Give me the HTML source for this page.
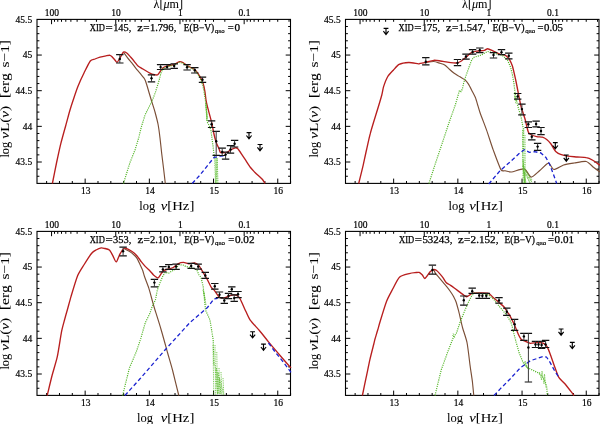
<!DOCTYPE html>
<html><head><meta charset="utf-8"><style>
html,body{margin:0;padding:0;background:#fff;width:600px;height:424px;overflow:hidden}
svg{display:block;will-change:transform}
.tk{font-family:"Liberation Serif",serif;font-size:9.5px;fill:#000;stroke:#000;stroke-width:0.2px}
.al{font-family:"Liberation Serif",serif;font-size:12.3px;fill:#000;stroke:#000;stroke-width:0.05px}
.tx{font-family:"Liberation Serif",serif;font-size:9.5px;fill:#000;stroke:#000;stroke-width:0.2px}
.an{font-family:"Liberation Serif",serif;font-size:9.6px;fill:#000;stroke:#000;stroke-width:0.25px}
.sb{font-family:"Liberation Sans",sans-serif;font-size:6.2px;fill:#000;stroke:#000;stroke-width:0.2px}
</style></head><body>
<svg width="600" height="424" viewBox="0 0 600 424">
<g transform="translate(37,19.4)">
<rect x="0" y="0" width="253.5" height="164.0" fill="none" stroke="#000" stroke-width="1.1"/>
<path d="M9.63 164.0v-2.4 M22.47 164.0v-2.4 M35.31 164.0v-2.4 M48.15 164.0v-4.8 M60.99 164.0v-2.4 M73.83 164.0v-2.4 M86.67 164.0v-2.4 M99.51 164.0v-2.4 M112.35 164.0v-4.8 M125.19 164.0v-2.4 M138.03 164.0v-2.4 M150.87 164.0v-2.4 M163.71 164.0v-2.4 M176.55 164.0v-4.8 M189.39 164.0v-2.4 M202.23 164.0v-2.4 M215.07 164.0v-2.4 M227.91 164.0v-2.4 M240.75 164.0v-4.8 M253.59 164.0v-2.4 M0 156.86h2.4 M253.5 156.86h-2.4 M0 149.73h2.4 M253.5 149.73h-2.4 M0 142.60h4.8 M253.5 142.60h-4.8 M0 135.47h2.4 M253.5 135.47h-2.4 M0 128.34h2.4 M253.5 128.34h-2.4 M0 121.21h2.4 M253.5 121.21h-2.4 M0 114.08h2.4 M253.5 114.08h-2.4 M0 106.95h4.8 M253.5 106.95h-4.8 M0 99.82h2.4 M253.5 99.82h-2.4 M0 92.69h2.4 M253.5 92.69h-2.4 M0 85.56h2.4 M253.5 85.56h-2.4 M0 78.43h2.4 M253.5 78.43h-2.4 M0 71.30h4.8 M253.5 71.30h-4.8 M0 64.17h2.4 M253.5 64.17h-2.4 M0 57.04h2.4 M253.5 57.04h-2.4 M0 49.91h2.4 M253.5 49.91h-2.4 M0 42.78h2.4 M253.5 42.78h-2.4 M0 35.65h4.8 M253.5 35.65h-4.8 M0 28.52h2.4 M253.5 28.52h-2.4 M0 21.39h2.4 M253.5 21.39h-2.4 M0 14.26h2.4 M253.5 14.26h-2.4 M0 7.13h2.4 M253.5 7.13h-2.4 M14.56 0v4.8 M78.76 0v4.8 M59.43 0v2.4 M48.13 0v2.4 M40.11 0v2.4 M33.89 0v2.4 M28.80 0v2.4 M24.51 0v2.4 M20.78 0v2.4 M17.50 0v2.4 M142.96 0v4.8 M123.63 0v2.4 M112.33 0v2.4 M104.31 0v2.4 M98.09 0v2.4 M93.00 0v2.4 M88.71 0v2.4 M84.98 0v2.4 M81.70 0v2.4 M207.16 0v4.8 M187.83 0v2.4 M176.53 0v2.4 M168.51 0v2.4 M162.29 0v2.4 M157.20 0v2.4 M152.91 0v2.4 M149.18 0v2.4 M145.90 0v2.4 M252.03 0v2.4 M240.73 0v2.4 M232.71 0v2.4 M226.49 0v2.4 M221.40 0v2.4 M217.11 0v2.4 M213.38 0v2.4 M210.10 0v2.4" stroke="#000" stroke-width="1" fill="none"/>
<text x="-4.8" y="3.30" text-anchor="end" class="tk">45.5</text>
<text x="-4.8" y="38.95" text-anchor="end" class="tk">45</text>
<text x="-4.8" y="74.60" text-anchor="end" class="tk">44.5</text>
<text x="-4.8" y="110.25" text-anchor="end" class="tk">44</text>
<text x="-4.8" y="145.90" text-anchor="end" class="tk">43.5</text>
<text x="48.75" y="174.90" text-anchor="middle" class="tx">13</text>
<text x="112.95" y="174.90" text-anchor="middle" class="tx">14</text>
<text x="177.15" y="174.90" text-anchor="middle" class="tx">15</text>
<text x="241.35" y="174.90" text-anchor="middle" class="tx">16</text>
<text x="14.86" y="-3.6" text-anchor="middle" class="tx">100</text>
<text x="79.06" y="-3.6" text-anchor="middle" class="tx">10</text>
<text x="143.26" y="-3.6" text-anchor="middle" class="tx">1</text>
<text x="207.46" y="-3.6" text-anchor="middle" class="tx">0.1</text>
</g>
<g transform="translate(345.5,19.4)">
<rect x="0" y="0" width="253.5" height="164.0" fill="none" stroke="#000" stroke-width="1.1"/>
<path d="M9.63 164.0v-2.4 M22.47 164.0v-2.4 M35.31 164.0v-2.4 M48.15 164.0v-4.8 M60.99 164.0v-2.4 M73.83 164.0v-2.4 M86.67 164.0v-2.4 M99.51 164.0v-2.4 M112.35 164.0v-4.8 M125.19 164.0v-2.4 M138.03 164.0v-2.4 M150.87 164.0v-2.4 M163.71 164.0v-2.4 M176.55 164.0v-4.8 M189.39 164.0v-2.4 M202.23 164.0v-2.4 M215.07 164.0v-2.4 M227.91 164.0v-2.4 M240.75 164.0v-4.8 M253.59 164.0v-2.4 M0 156.86h2.4 M253.5 156.86h-2.4 M0 149.73h2.4 M253.5 149.73h-2.4 M0 142.60h4.8 M253.5 142.60h-4.8 M0 135.47h2.4 M253.5 135.47h-2.4 M0 128.34h2.4 M253.5 128.34h-2.4 M0 121.21h2.4 M253.5 121.21h-2.4 M0 114.08h2.4 M253.5 114.08h-2.4 M0 106.95h4.8 M253.5 106.95h-4.8 M0 99.82h2.4 M253.5 99.82h-2.4 M0 92.69h2.4 M253.5 92.69h-2.4 M0 85.56h2.4 M253.5 85.56h-2.4 M0 78.43h2.4 M253.5 78.43h-2.4 M0 71.30h4.8 M253.5 71.30h-4.8 M0 64.17h2.4 M253.5 64.17h-2.4 M0 57.04h2.4 M253.5 57.04h-2.4 M0 49.91h2.4 M253.5 49.91h-2.4 M0 42.78h2.4 M253.5 42.78h-2.4 M0 35.65h4.8 M253.5 35.65h-4.8 M0 28.52h2.4 M253.5 28.52h-2.4 M0 21.39h2.4 M253.5 21.39h-2.4 M0 14.26h2.4 M253.5 14.26h-2.4 M0 7.13h2.4 M253.5 7.13h-2.4 M14.56 0v4.8 M78.76 0v4.8 M59.43 0v2.4 M48.13 0v2.4 M40.11 0v2.4 M33.89 0v2.4 M28.80 0v2.4 M24.51 0v2.4 M20.78 0v2.4 M17.50 0v2.4 M142.96 0v4.8 M123.63 0v2.4 M112.33 0v2.4 M104.31 0v2.4 M98.09 0v2.4 M93.00 0v2.4 M88.71 0v2.4 M84.98 0v2.4 M81.70 0v2.4 M207.16 0v4.8 M187.83 0v2.4 M176.53 0v2.4 M168.51 0v2.4 M162.29 0v2.4 M157.20 0v2.4 M152.91 0v2.4 M149.18 0v2.4 M145.90 0v2.4 M252.03 0v2.4 M240.73 0v2.4 M232.71 0v2.4 M226.49 0v2.4 M221.40 0v2.4 M217.11 0v2.4 M213.38 0v2.4 M210.10 0v2.4" stroke="#000" stroke-width="1" fill="none"/>
<text x="-4.8" y="3.30" text-anchor="end" class="tk">45.5</text>
<text x="-4.8" y="38.95" text-anchor="end" class="tk">45</text>
<text x="-4.8" y="74.60" text-anchor="end" class="tk">44.5</text>
<text x="-4.8" y="110.25" text-anchor="end" class="tk">44</text>
<text x="-4.8" y="145.90" text-anchor="end" class="tk">43.5</text>
<text x="48.75" y="174.90" text-anchor="middle" class="tx">13</text>
<text x="112.95" y="174.90" text-anchor="middle" class="tx">14</text>
<text x="177.15" y="174.90" text-anchor="middle" class="tx">15</text>
<text x="241.35" y="174.90" text-anchor="middle" class="tx">16</text>
<text x="14.86" y="-3.6" text-anchor="middle" class="tx">100</text>
<text x="79.06" y="-3.6" text-anchor="middle" class="tx">10</text>
<text x="143.26" y="-3.6" text-anchor="middle" class="tx">1</text>
<text x="207.46" y="-3.6" text-anchor="middle" class="tx">0.1</text>
</g>
<g transform="translate(37,231.4)">
<rect x="0" y="0" width="253.5" height="164.0" fill="none" stroke="#000" stroke-width="1.1"/>
<path d="M9.63 164.0v-2.4 M22.47 164.0v-2.4 M35.31 164.0v-2.4 M48.15 164.0v-4.8 M60.99 164.0v-2.4 M73.83 164.0v-2.4 M86.67 164.0v-2.4 M99.51 164.0v-2.4 M112.35 164.0v-4.8 M125.19 164.0v-2.4 M138.03 164.0v-2.4 M150.87 164.0v-2.4 M163.71 164.0v-2.4 M176.55 164.0v-4.8 M189.39 164.0v-2.4 M202.23 164.0v-2.4 M215.07 164.0v-2.4 M227.91 164.0v-2.4 M240.75 164.0v-4.8 M253.59 164.0v-2.4 M0 156.86h2.4 M253.5 156.86h-2.4 M0 149.73h2.4 M253.5 149.73h-2.4 M0 142.60h4.8 M253.5 142.60h-4.8 M0 135.47h2.4 M253.5 135.47h-2.4 M0 128.34h2.4 M253.5 128.34h-2.4 M0 121.21h2.4 M253.5 121.21h-2.4 M0 114.08h2.4 M253.5 114.08h-2.4 M0 106.95h4.8 M253.5 106.95h-4.8 M0 99.82h2.4 M253.5 99.82h-2.4 M0 92.69h2.4 M253.5 92.69h-2.4 M0 85.56h2.4 M253.5 85.56h-2.4 M0 78.43h2.4 M253.5 78.43h-2.4 M0 71.30h4.8 M253.5 71.30h-4.8 M0 64.17h2.4 M253.5 64.17h-2.4 M0 57.04h2.4 M253.5 57.04h-2.4 M0 49.91h2.4 M253.5 49.91h-2.4 M0 42.78h2.4 M253.5 42.78h-2.4 M0 35.65h4.8 M253.5 35.65h-4.8 M0 28.52h2.4 M253.5 28.52h-2.4 M0 21.39h2.4 M253.5 21.39h-2.4 M0 14.26h2.4 M253.5 14.26h-2.4 M0 7.13h2.4 M253.5 7.13h-2.4 M14.56 0v4.8 M78.76 0v4.8 M59.43 0v2.4 M48.13 0v2.4 M40.11 0v2.4 M33.89 0v2.4 M28.80 0v2.4 M24.51 0v2.4 M20.78 0v2.4 M17.50 0v2.4 M142.96 0v4.8 M123.63 0v2.4 M112.33 0v2.4 M104.31 0v2.4 M98.09 0v2.4 M93.00 0v2.4 M88.71 0v2.4 M84.98 0v2.4 M81.70 0v2.4 M207.16 0v4.8 M187.83 0v2.4 M176.53 0v2.4 M168.51 0v2.4 M162.29 0v2.4 M157.20 0v2.4 M152.91 0v2.4 M149.18 0v2.4 M145.90 0v2.4 M252.03 0v2.4 M240.73 0v2.4 M232.71 0v2.4 M226.49 0v2.4 M221.40 0v2.4 M217.11 0v2.4 M213.38 0v2.4 M210.10 0v2.4" stroke="#000" stroke-width="1" fill="none"/>
<text x="-4.8" y="3.30" text-anchor="end" class="tk">45.5</text>
<text x="-4.8" y="38.95" text-anchor="end" class="tk">45</text>
<text x="-4.8" y="74.60" text-anchor="end" class="tk">44.5</text>
<text x="-4.8" y="110.25" text-anchor="end" class="tk">44</text>
<text x="-4.8" y="145.90" text-anchor="end" class="tk">43.5</text>
<text x="48.75" y="174.90" text-anchor="middle" class="tx">13</text>
<text x="112.95" y="174.90" text-anchor="middle" class="tx">14</text>
<text x="177.15" y="174.90" text-anchor="middle" class="tx">15</text>
<text x="241.35" y="174.90" text-anchor="middle" class="tx">16</text>
<text x="14.86" y="-3.6" text-anchor="middle" class="tx">100</text>
<text x="79.06" y="-3.6" text-anchor="middle" class="tx">10</text>
<text x="143.26" y="-3.6" text-anchor="middle" class="tx">1</text>
<text x="207.46" y="-3.6" text-anchor="middle" class="tx">0.1</text>
</g>
<g transform="translate(345.5,231.4)">
<rect x="0" y="0" width="253.5" height="164.0" fill="none" stroke="#000" stroke-width="1.1"/>
<path d="M9.63 164.0v-2.4 M22.47 164.0v-2.4 M35.31 164.0v-2.4 M48.15 164.0v-4.8 M60.99 164.0v-2.4 M73.83 164.0v-2.4 M86.67 164.0v-2.4 M99.51 164.0v-2.4 M112.35 164.0v-4.8 M125.19 164.0v-2.4 M138.03 164.0v-2.4 M150.87 164.0v-2.4 M163.71 164.0v-2.4 M176.55 164.0v-4.8 M189.39 164.0v-2.4 M202.23 164.0v-2.4 M215.07 164.0v-2.4 M227.91 164.0v-2.4 M240.75 164.0v-4.8 M253.59 164.0v-2.4 M0 156.86h2.4 M253.5 156.86h-2.4 M0 149.73h2.4 M253.5 149.73h-2.4 M0 142.60h4.8 M253.5 142.60h-4.8 M0 135.47h2.4 M253.5 135.47h-2.4 M0 128.34h2.4 M253.5 128.34h-2.4 M0 121.21h2.4 M253.5 121.21h-2.4 M0 114.08h2.4 M253.5 114.08h-2.4 M0 106.95h4.8 M253.5 106.95h-4.8 M0 99.82h2.4 M253.5 99.82h-2.4 M0 92.69h2.4 M253.5 92.69h-2.4 M0 85.56h2.4 M253.5 85.56h-2.4 M0 78.43h2.4 M253.5 78.43h-2.4 M0 71.30h4.8 M253.5 71.30h-4.8 M0 64.17h2.4 M253.5 64.17h-2.4 M0 57.04h2.4 M253.5 57.04h-2.4 M0 49.91h2.4 M253.5 49.91h-2.4 M0 42.78h2.4 M253.5 42.78h-2.4 M0 35.65h4.8 M253.5 35.65h-4.8 M0 28.52h2.4 M253.5 28.52h-2.4 M0 21.39h2.4 M253.5 21.39h-2.4 M0 14.26h2.4 M253.5 14.26h-2.4 M0 7.13h2.4 M253.5 7.13h-2.4 M14.56 0v4.8 M78.76 0v4.8 M59.43 0v2.4 M48.13 0v2.4 M40.11 0v2.4 M33.89 0v2.4 M28.80 0v2.4 M24.51 0v2.4 M20.78 0v2.4 M17.50 0v2.4 M142.96 0v4.8 M123.63 0v2.4 M112.33 0v2.4 M104.31 0v2.4 M98.09 0v2.4 M93.00 0v2.4 M88.71 0v2.4 M84.98 0v2.4 M81.70 0v2.4 M207.16 0v4.8 M187.83 0v2.4 M176.53 0v2.4 M168.51 0v2.4 M162.29 0v2.4 M157.20 0v2.4 M152.91 0v2.4 M149.18 0v2.4 M145.90 0v2.4 M252.03 0v2.4 M240.73 0v2.4 M232.71 0v2.4 M226.49 0v2.4 M221.40 0v2.4 M217.11 0v2.4 M213.38 0v2.4 M210.10 0v2.4" stroke="#000" stroke-width="1" fill="none"/>
<text x="-4.8" y="3.30" text-anchor="end" class="tk">45.5</text>
<text x="-4.8" y="38.95" text-anchor="end" class="tk">45</text>
<text x="-4.8" y="74.60" text-anchor="end" class="tk">44.5</text>
<text x="-4.8" y="110.25" text-anchor="end" class="tk">44</text>
<text x="-4.8" y="145.90" text-anchor="end" class="tk">43.5</text>
<text x="48.75" y="174.90" text-anchor="middle" class="tx">13</text>
<text x="112.95" y="174.90" text-anchor="middle" class="tx">14</text>
<text x="177.15" y="174.90" text-anchor="middle" class="tx">15</text>
<text x="241.35" y="174.90" text-anchor="middle" class="tx">16</text>
<text x="14.86" y="-3.6" text-anchor="middle" class="tx">100</text>
<text x="79.06" y="-3.6" text-anchor="middle" class="tx">10</text>
<text x="143.26" y="-3.6" text-anchor="middle" class="tx">1</text>
<text x="207.46" y="-3.6" text-anchor="middle" class="tx">0.1</text>
</g>
<text x="139.20" y="210.4" class="al" textLength="16" lengthAdjust="spacingAndGlyphs">log</text>
<text x="160.80" y="210.4" class="al" textLength="33.5" lengthAdjust="spacingAndGlyphs"><tspan font-style="italic">ν</tspan>[Hz]</text>
<text transform="translate(9.399999999999999,157.6) rotate(-90)" class="al" textLength="15.8" lengthAdjust="spacingAndGlyphs">log</text>
<text transform="translate(9.399999999999999,138.8) rotate(-90)" class="al" textLength="33" lengthAdjust="spacingAndGlyphs"><tspan font-style="italic">ν</tspan>L(<tspan font-style="italic">ν</tspan>)</text>
<text transform="translate(9.399999999999999,98.19999999999999) rotate(-90)" class="al" textLength="25" lengthAdjust="spacingAndGlyphs">[erg</text>
<text transform="translate(9.399999999999999,67.5) rotate(-90)" class="al" textLength="27.5" lengthAdjust="spacingAndGlyphs">s−1]</text>
<text x="448.50" y="210.4" class="al" textLength="16" lengthAdjust="spacingAndGlyphs">log</text>
<text x="469.30" y="210.4" class="al" textLength="33.5" lengthAdjust="spacingAndGlyphs"><tspan font-style="italic">ν</tspan>[Hz]</text>
<text transform="translate(317.9,157.6) rotate(-90)" class="al" textLength="15.8" lengthAdjust="spacingAndGlyphs">log</text>
<text transform="translate(317.9,138.8) rotate(-90)" class="al" textLength="33" lengthAdjust="spacingAndGlyphs"><tspan font-style="italic">ν</tspan>L(<tspan font-style="italic">ν</tspan>)</text>
<text transform="translate(317.9,98.19999999999999) rotate(-90)" class="al" textLength="25" lengthAdjust="spacingAndGlyphs">[erg</text>
<text transform="translate(317.9,67.5) rotate(-90)" class="al" textLength="27.5" lengthAdjust="spacingAndGlyphs">s−1]</text>
<text x="137.00" y="422.4" class="al" textLength="16" lengthAdjust="spacingAndGlyphs">log</text>
<text x="160.80" y="422.4" class="al" textLength="33.5" lengthAdjust="spacingAndGlyphs"><tspan font-style="italic">ν</tspan>[Hz]</text>
<text transform="translate(9.399999999999999,369.6) rotate(-90)" class="al" textLength="15.8" lengthAdjust="spacingAndGlyphs">log</text>
<text transform="translate(9.399999999999999,350.8) rotate(-90)" class="al" textLength="33" lengthAdjust="spacingAndGlyphs"><tspan font-style="italic">ν</tspan>L(<tspan font-style="italic">ν</tspan>)</text>
<text transform="translate(9.399999999999999,310.2) rotate(-90)" class="al" textLength="25" lengthAdjust="spacingAndGlyphs">[erg</text>
<text transform="translate(9.399999999999999,279.5) rotate(-90)" class="al" textLength="27.5" lengthAdjust="spacingAndGlyphs">s−1]</text>
<text x="447.00" y="422.4" class="al" textLength="16" lengthAdjust="spacingAndGlyphs">log</text>
<text x="469.30" y="422.4" class="al" textLength="33.5" lengthAdjust="spacingAndGlyphs"><tspan font-style="italic">ν</tspan>[Hz]</text>
<text transform="translate(317.9,369.6) rotate(-90)" class="al" textLength="15.8" lengthAdjust="spacingAndGlyphs">log</text>
<text transform="translate(317.9,350.8) rotate(-90)" class="al" textLength="33" lengthAdjust="spacingAndGlyphs"><tspan font-style="italic">ν</tspan>L(<tspan font-style="italic">ν</tspan>)</text>
<text transform="translate(317.9,310.2) rotate(-90)" class="al" textLength="25" lengthAdjust="spacingAndGlyphs">[erg</text>
<text transform="translate(317.9,279.5) rotate(-90)" class="al" textLength="27.5" lengthAdjust="spacingAndGlyphs">s−1]</text>
<text x="89.8" y="30.60" class="an" textLength="15.1" lengthAdjust="spacingAndGlyphs">XID</text>
<text x="105.6" y="30.60" class="an" textLength="7.2" lengthAdjust="spacingAndGlyphs">=</text>
<text x="113.2" y="30.60" class="an" textLength="18.1" lengthAdjust="spacingAndGlyphs">145,</text>
<text x="137.2" y="30.60" class="an" textLength="5.7" lengthAdjust="spacingAndGlyphs">z</text>
<text x="143.2" y="30.60" class="an" textLength="6.3" lengthAdjust="spacingAndGlyphs">=</text>
<text x="149.9" y="30.60" class="an" textLength="26.4" lengthAdjust="spacingAndGlyphs">1.796,</text>
<text x="183.7" y="30.60" class="an" textLength="30.6" lengthAdjust="spacingAndGlyphs">E(B−V)</text>
<text x="214.8" y="33.10" class="sb" textLength="9.8" lengthAdjust="spacingAndGlyphs">qso</text>
<text x="227.8" y="30.60" class="an" textLength="6.0" lengthAdjust="spacingAndGlyphs">=</text>
<text x="234.4" y="30.60" class="an" textLength="5.6" lengthAdjust="spacingAndGlyphs">0</text>
<text x="398.5" y="30.60" class="an" textLength="15.1" lengthAdjust="spacingAndGlyphs">XID</text>
<text x="414.3" y="30.60" class="an" textLength="7.2" lengthAdjust="spacingAndGlyphs">=</text>
<text x="421.9" y="30.60" class="an" textLength="18.3" lengthAdjust="spacingAndGlyphs">175,</text>
<text x="446.1" y="30.60" class="an" textLength="5.7" lengthAdjust="spacingAndGlyphs">z</text>
<text x="452.1" y="30.60" class="an" textLength="6.3" lengthAdjust="spacingAndGlyphs">=</text>
<text x="458.8" y="30.60" class="an" textLength="26.6" lengthAdjust="spacingAndGlyphs">1.547,</text>
<text x="492.5" y="30.60" class="an" textLength="32.0" lengthAdjust="spacingAndGlyphs">E(B−V)</text>
<text x="525.2" y="33.10" class="sb" textLength="10.0" lengthAdjust="spacingAndGlyphs">qso</text>
<text x="537.5" y="30.60" class="an" textLength="6.0" lengthAdjust="spacingAndGlyphs">=</text>
<text x="544.1" y="30.60" class="an" textLength="18.9" lengthAdjust="spacingAndGlyphs">0.05</text>
<text x="89.7" y="242.60" class="an" textLength="15.1" lengthAdjust="spacingAndGlyphs">XID</text>
<text x="105.5" y="242.60" class="an" textLength="7.2" lengthAdjust="spacingAndGlyphs">=</text>
<text x="113.1" y="242.60" class="an" textLength="18.3" lengthAdjust="spacingAndGlyphs">353,</text>
<text x="137.4" y="242.60" class="an" textLength="5.7" lengthAdjust="spacingAndGlyphs">z</text>
<text x="143.4" y="242.60" class="an" textLength="6.3" lengthAdjust="spacingAndGlyphs">=</text>
<text x="150.1" y="242.60" class="an" textLength="26.2" lengthAdjust="spacingAndGlyphs">2.101,</text>
<text x="184.2" y="242.60" class="an" textLength="30.0" lengthAdjust="spacingAndGlyphs">E(B−V)</text>
<text x="215.0" y="245.10" class="sb" textLength="10.0" lengthAdjust="spacingAndGlyphs">qso</text>
<text x="228.3" y="242.60" class="an" textLength="6.0" lengthAdjust="spacingAndGlyphs">=</text>
<text x="234.9" y="242.60" class="an" textLength="19.6" lengthAdjust="spacingAndGlyphs">0.02</text>
<text x="399.0" y="242.60" class="an" textLength="15.1" lengthAdjust="spacingAndGlyphs">XID</text>
<text x="414.8" y="242.60" class="an" textLength="7.2" lengthAdjust="spacingAndGlyphs">=</text>
<text x="422.4" y="242.60" class="an" textLength="30.1" lengthAdjust="spacingAndGlyphs">53243,</text>
<text x="457.9" y="242.60" class="an" textLength="5.7" lengthAdjust="spacingAndGlyphs">z</text>
<text x="463.9" y="242.60" class="an" textLength="6.3" lengthAdjust="spacingAndGlyphs">=</text>
<text x="470.6" y="242.60" class="an" textLength="27.9" lengthAdjust="spacingAndGlyphs">2.152,</text>
<text x="504.5" y="242.60" class="an" textLength="30.5" lengthAdjust="spacingAndGlyphs">E(B−V)</text>
<text x="536.2" y="245.10" class="sb" textLength="10.0" lengthAdjust="spacingAndGlyphs">qso</text>
<text x="548.0" y="242.60" class="an" textLength="6.0" lengthAdjust="spacingAndGlyphs">=</text>
<text x="554.6" y="242.60" class="an" textLength="19.4" lengthAdjust="spacingAndGlyphs">0.01</text>
<text x="153.5" y="8.399999999999999" class="al" textLength="29.5" lengthAdjust="spacingAndGlyphs">λ[<tspan font-style="italic">μ</tspan>m]</text>
<text x="462.0" y="8.399999999999999" class="al" textLength="29.5" lengthAdjust="spacingAndGlyphs">λ[<tspan font-style="italic">μ</tspan>m]</text>
<path d="M123.6 52.4C124.1 53.1 126.9 56.9 127.8 58.1C128.7 59.3 130.6 61.4 131.6 62.6C132.6 63.8 135.0 67.3 136.1 68.6C137.2 69.9 139.7 72.8 140.6 73.9C141.5 75.0 143.1 76.9 143.7 77.7C144.3 78.5 145.0 79.6 145.5 81.0C146.0 82.4 147.6 87.5 148.3 90.0C149.0 92.5 151.1 99.4 151.9 102.0C152.7 104.6 154.3 109.4 155.0 112.0C155.7 114.6 157.4 121.0 158.0 124.0C158.6 127.0 159.6 134.6 160.0 138.0C160.4 141.4 161.3 150.0 161.7 153.5C162.1 157.0 163.1 164.5 163.5 168.0C163.9 171.5 165.1 181.7 165.3 183.5" fill="none" stroke="#7a4e36" stroke-width="1.15"/>
<path d="M52.4 183.5C52.9 181.1 55.5 167.7 56.5 163.0C57.5 158.3 59.7 148.0 60.8 143.6C61.9 139.2 64.6 129.6 65.7 125.7C66.8 121.8 69.1 113.0 70.0 110.0C70.9 107.0 72.3 102.7 73.2 100.0C74.1 97.3 76.5 89.9 77.8 86.7C79.1 83.5 82.5 76.0 84.0 73.0C85.5 70.0 89.0 62.6 90.3 61.0C91.6 59.4 93.9 59.5 95.0 59.0C96.1 58.5 98.7 57.5 100.0 57.1C101.3 56.7 104.8 56.0 106.0 55.8C107.2 55.6 109.3 55.2 110.0 55.3C110.7 55.4 111.3 56.0 111.8 56.5C112.3 57.0 113.9 58.8 114.5 59.5C115.1 60.2 116.5 62.4 117.1 62.2C117.7 62.0 119.3 59.2 120.0 58.0C120.7 56.8 122.6 52.7 123.4 52.1C124.2 51.5 126.2 52.6 127.1 53.2C128.0 53.8 129.9 56.3 130.8 57.3C131.7 58.3 133.8 60.8 134.6 61.8C135.4 62.8 137.0 65.2 138.0 66.0C139.0 66.8 141.3 68.0 142.9 69.0C144.5 70.0 150.4 73.5 151.9 74.2C153.4 74.9 154.7 74.7 155.4 74.8C156.1 74.9 157.1 75.2 157.7 74.8C158.3 74.4 159.9 71.8 160.5 71.0C161.1 70.2 162.2 68.3 163.0 67.7C163.8 67.1 166.5 66.2 167.7 65.9C168.9 65.6 172.2 65.2 173.6 64.7C175.0 64.2 178.3 61.8 179.5 61.6C180.7 61.4 182.5 62.4 183.6 63.0C184.7 63.6 187.6 65.7 188.9 66.5C190.2 67.3 193.6 68.4 194.8 69.5C196.0 70.6 198.5 74.3 199.5 75.9C200.5 77.5 202.4 81.1 203.0 83.0C203.6 84.9 204.7 90.0 205.0 92.0C205.3 94.0 205.7 98.2 206.0 100.0C206.3 101.8 207.0 105.0 207.7 107.7C208.4 110.4 211.1 120.2 211.8 123.0C212.5 125.8 213.0 129.6 213.5 132.0C214.0 134.4 215.9 141.4 216.5 143.3C217.1 145.2 218.4 147.1 218.8 148.2C219.2 149.2 220.0 151.8 220.3 152.3C220.7 152.8 221.0 152.7 221.8 152.7C222.6 152.7 225.9 152.7 227.0 152.3C228.1 151.9 230.6 149.8 231.6 149.3C232.6 148.8 234.7 147.9 235.4 147.8C236.1 147.7 236.9 147.9 237.6 148.6C238.3 149.3 240.6 152.7 241.4 153.9C242.2 155.1 243.5 157.0 244.6 158.6C245.7 160.2 249.3 165.9 250.5 167.5C251.7 169.1 254.0 171.4 255.0 172.5C256.0 173.6 258.5 175.7 259.4 176.5C260.3 177.3 261.8 178.7 262.5 179.5C263.2 180.3 264.7 183.0 265.0 183.5" fill="none" stroke="#b81e1e" stroke-width="1.35" stroke-linejoin="round"/>
<polyline points="123.5,183.5 127.0,172.0 130.0,162.5 135.0,150.0 138.8,137.5 141.2,127.5 145.0,115.0 147.5,110.0 152.5,100.0 155.5,92.0 159.2,80.0 161.0,73.0 163.0,68.9 167.7,66.5 173.6,65.3 179.5,62.3 183.6,63.6 188.9,67.0 194.8,70.0 199.5,77.0 202.9,85.5 204.6,95.0 205.8,103.0 206.6,112.0 207.2,122.0 209.5,126.0 211.0,131.0 213.0,146.0 214.2,156.0" fill="none" stroke="#52b526" stroke-width="1.2" stroke-dasharray="1.1 1.1"/>
<polyline points="214.5,156.0 215.5,183.0 216.0,157.0 216.8,183.0 217.2,158.0 218.0,183.0" fill="none" stroke="#5cbb30" stroke-width="0.8" stroke-dasharray="1 0.8"/>
<polyline points="205.5,103.0 207.0,121.0 206.0,104.0 207.5,118.0" fill="none" stroke="#5cbb30" stroke-width="0.8" stroke-dasharray="1 0.8"/>
<polyline points="192.2,183.5 200.0,175.0 214.1,157.4 220.3,156.1 226.0,155.5" fill="none" stroke="#1a22d0" stroke-width="1.3" stroke-dasharray="4 2.6"/>
<path d="M116.1 54.7h7.4M116.1 63.0h7.4M147.8 74.8h7.4M147.8 81.9h7.4M156.9 64.7h7.4M156.9 69.5h7.4M163.4 64.7h7.4M163.4 69.1h7.4M170.5 63.9h7.4M170.5 68.3h7.4M183.4 64.7h7.4M183.4 70.0h7.4M191.1 67.7h7.4M191.1 73.0h7.4M198.8 77.1h7.4M198.8 82.4h7.4M207.9 120.9h7.4M207.9 127.5h7.4M212.5 131.3h7.4M212.5 155.3h7.4M218.5 148.2h7.4M218.5 155.5h7.4M221.9 152.0h7.4M221.9 159.1h7.4M226.8 145.6h7.4M226.8 153.1h7.4M230.9 140.3h7.4M230.9 147.0h7.4" stroke="#111" stroke-width="1.2" fill="none"/>
<path d="M119.8 54.7V63.0M151.5 74.8V81.9M160.6 64.7V69.5M167.1 64.7V69.1M174.2 63.9V68.3M187.1 64.7V70.0M194.8 67.7V73.0M202.5 77.1V82.4M211.6 120.9V127.5M216.2 131.3V155.3M222.2 148.2V155.5M225.6 152.0V159.1M230.5 145.6V153.1M234.6 140.3V147.0" stroke="#3a3a3a" stroke-width="1" fill="none"/>
<circle cx="119.8" cy="58.9" r="1.2" fill="#000"/><circle cx="151.5" cy="78.3" r="1.2" fill="#000"/><circle cx="160.6" cy="67.1" r="1.2" fill="#000"/><circle cx="167.1" cy="67.0" r="1.2" fill="#000"/><circle cx="174.2" cy="66.0" r="1.2" fill="#000"/><circle cx="187.1" cy="67.3" r="1.2" fill="#000"/><circle cx="194.8" cy="70.3" r="1.2" fill="#000"/><circle cx="202.5" cy="79.7" r="1.2" fill="#000"/><circle cx="211.6" cy="124.2" r="1.2" fill="#000"/><circle cx="216.2" cy="141.2" r="1.2" fill="#000"/><circle cx="222.2" cy="152.0" r="1.2" fill="#000"/><circle cx="225.6" cy="154.6" r="1.2" fill="#000"/><circle cx="230.5" cy="149.5" r="1.2" fill="#000"/><circle cx="234.6" cy="143.7" r="1.2" fill="#000"/>
<path d="M246.6 132.6h4.8M249.0 132.6v6M246.4 135.5L249.0 138.8L251.6 135.5" stroke="#000" stroke-width="1.15" fill="none"/>
<path d="M257.6 144.5h4.8M260.0 144.5v6M257.4 147.4L260.0 150.7L262.6 147.4" stroke="#000" stroke-width="1.15" fill="none"/>
<path d="M426.1 62.3C427.0 62.2 432.2 61.4 433.8 61.5C435.4 61.6 438.7 62.9 440.0 63.3C441.3 63.7 443.6 64.3 444.7 65.0C445.8 65.7 448.3 68.2 449.4 69.2C450.5 70.2 453.0 72.4 454.2 73.3C455.4 74.2 458.8 76.0 460.0 76.8C461.2 77.6 463.8 79.0 464.8 79.8C465.8 80.6 467.5 82.7 468.3 83.9C469.1 85.1 471.0 88.8 471.8 90.4C472.6 92.0 474.7 95.8 475.4 97.5C476.1 99.2 477.2 103.3 477.7 105.0C478.2 106.7 478.9 109.3 479.9 112.2C480.9 115.1 484.9 125.5 486.5 129.9C488.1 134.3 491.5 145.3 493.2 149.9C494.9 154.5 499.5 167.2 500.9 169.6C502.3 172.0 503.9 170.5 505.1 170.8C506.3 171.1 509.3 172.2 511.5 172.0C513.7 171.8 521.9 168.3 524.2 168.9C526.5 169.5 529.4 176.9 531.2 177.1C533.0 177.3 537.5 172.4 539.5 170.8C541.5 169.2 546.7 163.3 548.4 163.1C550.1 162.9 552.0 169.3 553.8 169.5C555.6 169.7 561.2 165.8 563.6 165.0C566.0 164.2 571.6 163.4 574.2 163.0C576.8 162.6 583.9 161.0 586.2 161.5C588.5 162.0 592.2 166.3 593.8 167.5C595.4 168.7 599.3 171.5 600.0 172.0" fill="none" stroke="#7a4e36" stroke-width="1.15"/>
<path d="M358.7 183.5C359.2 181.5 362.0 170.3 362.9 166.4C363.8 162.5 365.6 153.8 366.5 150.0C367.4 146.2 369.1 137.9 370.2 133.9C371.2 129.9 374.1 120.5 375.5 116.0C376.9 111.5 380.9 98.4 381.8 95.0C382.7 91.6 382.9 88.7 383.6 86.6C384.3 84.5 386.4 78.9 387.5 77.0C388.6 75.1 391.9 71.7 393.3 70.2C394.7 68.7 397.3 65.3 399.1 64.4C400.9 63.5 406.5 62.6 408.8 62.5C411.1 62.4 417.1 63.7 418.4 63.8C419.7 63.9 419.1 63.6 420.0 63.4C420.9 63.2 424.5 62.7 426.1 62.3C427.7 61.9 431.8 60.4 433.8 60.3C435.8 60.2 441.0 61.1 443.0 61.4C445.0 61.7 449.1 62.4 450.7 62.6C452.3 62.8 455.6 63.1 456.8 62.9C458.0 62.7 460.3 61.7 461.4 61.0C462.5 60.3 464.9 58.1 466.0 57.2C467.1 56.3 469.4 53.8 470.6 53.1C471.8 52.4 475.1 51.4 476.7 51.1C478.3 50.8 483.1 50.6 484.4 50.3C485.7 50.0 486.7 48.7 487.6 48.7C488.5 48.7 490.9 49.8 492.0 50.3C493.1 50.8 495.7 52.1 496.6 52.6C497.5 53.1 499.1 53.9 500.0 54.2C500.9 54.5 503.6 54.6 504.5 54.9C505.4 55.2 506.9 56.5 507.4 57.0C507.9 57.5 508.5 57.8 509.1 58.8C509.7 59.8 511.6 63.5 512.4 66.0C513.2 68.5 515.0 76.8 515.7 80.0C516.4 83.2 517.7 90.0 518.3 93.2C518.9 96.4 520.4 104.1 521.2 107.0C522.0 109.9 524.1 116.0 524.8 118.3C525.5 120.6 526.5 125.2 526.9 126.8C527.3 128.4 527.9 131.1 528.3 132.0C528.7 132.9 529.6 134.0 530.6 134.5C531.6 135.0 535.4 136.3 536.8 136.6C538.2 136.9 541.2 136.9 542.4 137.2C543.6 137.5 545.7 138.7 546.7 139.5C547.7 140.3 550.2 143.0 551.0 144.0C551.8 145.0 552.9 147.4 553.5 148.3C554.1 149.2 555.2 151.0 556.0 151.7C556.8 152.4 559.2 153.9 560.6 154.4C562.0 154.9 566.2 155.9 568.1 156.2C570.0 156.5 575.1 156.8 577.2 157.0C579.3 157.2 584.4 157.3 586.2 157.7C588.0 158.0 590.7 159.1 592.3 160.0C593.9 160.9 599.1 164.7 600.0 165.3" fill="none" stroke="#b81e1e" stroke-width="1.35" stroke-linejoin="round"/>
<polyline points="428.9,183.5 435.5,163.2 442.2,143.2 448.8,123.3 455.3,105.0 459.5,90.4 461.0,91.5 462.4,89.0 463.6,83.3 465.4,77.4 468.3,69.2 471.3,60.9 473.6,57.4 477.7,56.2 481.3,55.0 487.5,51.5 492.5,52.5 497.0,54.0 502.5,55.5 507.5,60.0 510.5,67.0 512.5,75.0 514.0,84.0 515.0,92.5 517.5,105.0 521.2,117.5 523.5,130.0 523.0,140.0 523.3,150.0" fill="none" stroke="#52b526" stroke-width="1.2" stroke-dasharray="1.1 1.1"/>
<polyline points="522.5,130.0 523.0,183.0" fill="none" stroke="#5cbb30" stroke-width="0.8" stroke-dasharray="1 0.8"/>
<polyline points="523.8,128.0 524.2,183.0" fill="none" stroke="#5cbb30" stroke-width="0.8" stroke-dasharray="1 0.8"/>
<polyline points="525.0,135.0 525.3,183.0" fill="none" stroke="#5cbb30" stroke-width="0.8" stroke-dasharray="1 0.8"/>
<polyline points="522.5,150.0 524.5,183.0 523.0,160.0 525.0,183.0 522.8,165.0 526.0,183.0" fill="none" stroke="#5cbb30" stroke-width="0.8" stroke-dasharray="1 0.8"/>
<polyline points="523.5,166.0 531.8,182.0 524.0,172.0 530.0,183.0 525.0,170.0 532.0,180.0" fill="none" stroke="#5cbb30" stroke-width="0.8" stroke-dasharray="1 0.8"/>
<polyline points="514.0,93.0 516.5,101.0 514.5,96.0 516.0,104.0" fill="none" stroke="#5cbb30" stroke-width="0.8" stroke-dasharray="1 0.8"/>
<polyline points="488.7,184.0 500.0,170.8 510.2,161.8 519.1,153.6 524.2,149.7 529.3,152.3 534.4,151.7 540.8,152.9 545.9,157.4 549.7,164.4 553.5,174.6 556.7,183.5" fill="none" stroke="#1a22d0" stroke-width="1.3" stroke-dasharray="4 2.6"/>
<path d="M422.1 57.7h7.4M422.1 64.9h7.4M453.8 59.5h7.4M453.8 65.7h7.4M462.3 54.2h7.4M462.3 59.2h7.4M468.9 49.6h7.4M468.9 54.2h7.4M476.1 48.0h7.4M476.1 52.6h7.4M489.8 52.6h7.4M489.8 58.0h7.4M497.8 49.6h7.4M497.8 54.6h7.4M505.1 53.1h7.4M505.1 58.8h7.4M514.0 93.5h7.4M514.0 99.2h7.4M518.2 104.1h7.4M518.2 114.8h7.4M524.6 121.8h7.4M524.6 127.5h7.4M532.4 121.1h7.4M532.4 126.8h7.4M537.3 127.5h7.4M537.3 134.6h7.4M528.1 133.6h7.4M528.1 139.8h7.4M533.9 143.4h7.4M533.9 150.4h7.4" stroke="#111" stroke-width="1.2" fill="none"/>
<path d="M425.8 57.7V64.9M457.5 59.5V65.7M466.0 54.2V59.2M472.6 49.6V54.2M479.8 48.0V52.6M493.5 52.6V58.0M501.5 49.6V54.6M508.8 53.1V58.8M517.7 93.5V99.2M521.9 104.1V114.8M528.3 121.8V127.5M536.1 121.1V126.8M541.0 127.5V134.6M531.8 133.6V139.8M537.6 143.4V150.4" stroke="#3a3a3a" stroke-width="1" fill="none"/>
<circle cx="425.8" cy="61.8" r="1.2" fill="#000"/><circle cx="457.5" cy="62.9" r="1.2" fill="#000"/><circle cx="466.0" cy="56.5" r="1.2" fill="#000"/><circle cx="472.6" cy="51.9" r="1.2" fill="#000"/><circle cx="479.8" cy="50.3" r="1.2" fill="#000"/><circle cx="493.5" cy="54.9" r="1.2" fill="#000"/><circle cx="501.5" cy="52.2" r="1.2" fill="#000"/><circle cx="508.8" cy="55.7" r="1.2" fill="#000"/><circle cx="517.7" cy="96.4" r="1.2" fill="#000"/><circle cx="521.9" cy="109.1" r="1.2" fill="#000"/><circle cx="528.3" cy="124.3" r="1.2" fill="#000"/><circle cx="536.1" cy="124.0" r="1.2" fill="#000"/><circle cx="541.0" cy="131.0" r="1.2" fill="#000"/><circle cx="531.8" cy="136.7" r="1.2" fill="#000"/><circle cx="537.6" cy="146.6" r="1.2" fill="#000"/>
<path d="M383.6 28.3h4.8M386.0 28.3v6M383.4 31.2L386.0 34.5L388.6 31.2" stroke="#000" stroke-width="1.15" fill="none"/>
<path d="M552.9 142.6h4.8M555.3 142.6v6M552.7 145.5L555.3 148.8L557.9 145.5" stroke="#000" stroke-width="1.15" fill="none"/>
<path d="M563.9 155.0h4.8M566.3 155.0v6M563.7 157.9L566.3 161.2L568.9 157.9" stroke="#000" stroke-width="1.15" fill="none"/>
<path d="M124.5 248.8C125.1 249.1 128.2 250.6 129.3 251.3C130.4 252.0 132.9 253.9 133.8 254.7C134.7 255.5 136.2 257.0 136.9 258.1C137.6 259.2 139.2 262.7 139.9 264.2C140.6 265.7 142.4 269.5 142.9 271.0C143.4 272.5 143.9 274.8 144.6 276.8C145.3 278.8 147.9 285.4 148.8 288.1C149.7 290.8 151.4 297.4 152.1 300.0C152.8 302.6 153.9 306.5 155.0 310.0C156.1 313.5 159.8 325.0 161.2 330.0C162.7 335.0 166.2 347.8 167.5 352.5C168.8 357.2 171.2 365.0 172.5 370.0C173.8 375.0 178.0 392.5 178.8 395.5" fill="none" stroke="#7a4e36" stroke-width="1.15"/>
<path d="M47.2 395.5C47.8 393.1 51.0 379.5 52.2 375.0C53.4 370.5 56.2 361.7 57.3 356.7C58.4 351.7 60.6 336.6 61.4 332.3C62.2 328.0 63.8 322.6 64.5 320.0C65.2 317.4 66.5 312.7 67.3 310.0C68.1 307.3 69.8 300.6 71.0 296.6C72.2 292.6 76.1 279.5 77.6 275.8C79.1 272.1 82.6 267.1 84.2 264.5C85.8 261.9 90.3 254.9 91.7 253.2C93.1 251.5 94.9 250.6 96.0 250.0C97.1 249.4 100.2 248.1 101.2 247.9C102.2 247.7 104.0 248.3 105.0 248.5C106.0 248.7 108.5 249.2 109.4 250.0C110.3 250.8 112.0 254.2 112.8 255.6C113.6 257.0 115.5 262.1 116.3 261.9C117.1 261.7 119.0 255.7 119.9 254.1C120.8 252.5 123.0 248.8 124.1 248.3C125.2 247.8 128.2 249.3 129.3 249.8C130.4 250.3 132.8 252.0 133.8 252.8C134.8 253.6 136.7 255.5 137.6 256.6C138.5 257.7 140.5 260.8 141.4 261.9C142.3 263.0 144.2 265.3 145.2 266.4C146.2 267.5 149.0 270.0 150.0 271.0C151.0 272.0 152.6 274.1 153.5 274.9C154.4 275.7 157.2 278.0 158.1 277.8C159.0 277.6 160.8 274.1 161.5 273.2C162.2 272.3 163.1 270.9 163.9 270.4C164.7 269.9 167.5 269.3 168.6 269.0C169.7 268.7 172.2 268.1 173.3 267.5C174.4 266.9 176.8 264.4 178.0 263.8C179.2 263.2 182.1 262.4 183.4 262.4C184.7 262.4 187.7 263.8 189.0 263.9C190.3 264.0 193.5 262.8 194.7 263.0C195.9 263.2 197.9 264.5 198.9 265.6C199.9 266.7 202.2 271.0 203.2 272.6C204.2 274.2 206.5 278.0 207.4 279.7C208.3 281.4 210.2 285.5 211.0 286.8C211.8 288.1 213.5 289.4 214.5 290.6C215.5 291.8 218.3 296.6 219.5 297.4C220.7 298.2 223.9 297.8 225.2 297.6C226.5 297.4 229.6 295.6 230.9 295.3C232.2 295.0 235.5 295.0 236.5 295.3C237.5 295.6 238.7 296.7 239.4 297.6C240.1 298.5 241.5 301.7 242.2 303.3C242.9 304.9 244.8 309.3 245.8 311.3C246.8 313.3 248.8 318.2 250.4 320.4C252.0 322.6 257.3 328.0 259.4 330.5C261.5 333.0 265.9 338.7 268.5 341.9C271.1 345.1 279.4 354.7 282.0 357.7C284.6 360.7 289.9 366.7 291.0 367.9" fill="none" stroke="#b81e1e" stroke-width="1.35" stroke-linejoin="round"/>
<polyline points="122.6,395.5 129.4,368.0 136.2,352.0 140.8,338.5 145.3,322.6 149.8,313.6 152.1,306.8 155.4,300.0 157.3,290.2 160.1,282.6 162.9,276.0 165.3,272.3 168.6,273.2 171.4,271.3 175.2,269.4 179.0,264.7 183.0,265.0 186.0,266.5 191.9,267.7 196.8,269.8 198.9,274.8 201.1,277.6 203.2,286.8 205.5,310.0 210.0,320.0 213.2,340.0 214.0,365.0" fill="none" stroke="#52b526" stroke-width="1.2" stroke-dasharray="1.1 1.1"/>
<polyline points="213.0,345.0 213.8,395.0" fill="none" stroke="#5cbb30" stroke-width="0.8" stroke-dasharray="1 0.8"/>
<polyline points="215.0,345.0 215.6,395.0" fill="none" stroke="#5cbb30" stroke-width="0.8" stroke-dasharray="1 0.8"/>
<polyline points="216.8,352.0 217.4,395.0" fill="none" stroke="#5cbb30" stroke-width="0.8" stroke-dasharray="1 0.8"/>
<polyline points="219.0,368.0 220.0,395.0" fill="none" stroke="#5cbb30" stroke-width="0.8" stroke-dasharray="1 0.8"/>
<polyline points="221.0,372.0 222.0,395.0" fill="none" stroke="#5cbb30" stroke-width="0.8" stroke-dasharray="1 0.8"/>
<polyline points="223.0,378.0 223.8,395.0" fill="none" stroke="#5cbb30" stroke-width="0.8" stroke-dasharray="1 0.8"/>
<polyline points="215.0,365.0 217.5,394.0 216.5,368.0 219.0,394.0 218.0,372.0 221.0,394.0 219.5,378.0 223.5,394.0" fill="none" stroke="#5cbb30" stroke-width="0.8" stroke-dasharray="1 0.8"/>
<polyline points="203.0,290.0 205.0,300.0 204.0,292.0 206.0,305.0" fill="none" stroke="#5cbb30" stroke-width="0.8" stroke-dasharray="1 0.8"/>
<polyline points="124.9,395.5 140.0,378.8 165.0,350.0 190.0,322.5 207.5,307.5 213.9,299.0 217.7,298.4" fill="none" stroke="#1a22d0" stroke-width="1.3" stroke-dasharray="4 2.6"/>
<polyline points="268.5,343.0 275.2,352.0 284.3,363.3 291.0,372.4" fill="none" stroke="#1a22d0" stroke-width="1.3" stroke-dasharray="4 2.6"/>
<path d="M119.4 247.1h7.4M119.4 255.8h7.4M150.7 279.3h7.4M150.7 286.9h7.4M159.2 266.6h7.4M159.2 271.8h7.4M165.1 264.7h7.4M165.1 269.4h7.4M172.4 264.2h7.4M172.4 269.4h7.4M187.5 263.4h7.4M187.5 268.4h7.4M194.5 264.1h7.4M194.5 269.1h7.4M201.6 272.3h7.4M201.6 278.3h7.4M211.1 283.5h7.4M211.1 289.2h7.4M215.8 292.0h7.4M215.8 297.6h7.4M220.6 298.1h7.4M220.6 303.3h7.4M224.8 293.4h7.4M224.8 298.6h7.4M228.1 286.8h7.4M228.1 291.5h7.4M230.5 294.8h7.4M230.5 301.4h7.4M234.3 291.5h7.4M234.3 297.6h7.4" stroke="#111" stroke-width="1.2" fill="none"/>
<path d="M123.1 247.1V255.8M154.4 279.3V286.9M162.9 266.6V271.8M168.8 264.7V269.4M176.1 264.2V269.4M191.2 263.4V268.4M198.2 264.1V269.1M205.3 272.3V278.3M214.8 283.5V289.2M219.5 292.0V297.6M224.3 298.1V303.3M228.5 293.4V298.6M231.8 286.8V291.5M234.2 294.8V301.4M238.0 291.5V297.6" stroke="#3a3a3a" stroke-width="1" fill="none"/>
<circle cx="123.1" cy="251.3" r="1.2" fill="#000"/><circle cx="154.4" cy="282.6" r="1.2" fill="#000"/><circle cx="162.9" cy="269.4" r="1.2" fill="#000"/><circle cx="168.8" cy="267.0" r="1.2" fill="#000"/><circle cx="176.1" cy="266.6" r="1.2" fill="#000"/><circle cx="191.2" cy="265.9" r="1.2" fill="#000"/><circle cx="198.2" cy="266.6" r="1.2" fill="#000"/><circle cx="205.3" cy="275.5" r="1.2" fill="#000"/><circle cx="214.8" cy="286.3" r="1.2" fill="#000"/><circle cx="219.5" cy="294.8" r="1.2" fill="#000"/><circle cx="224.3" cy="300.5" r="1.2" fill="#000"/><circle cx="228.5" cy="295.8" r="1.2" fill="#000"/><circle cx="231.8" cy="289.2" r="1.2" fill="#000"/><circle cx="234.2" cy="298.1" r="1.2" fill="#000"/><circle cx="238.0" cy="294.3" r="1.2" fill="#000"/>
<path d="M250.2 331.7h4.8M252.6 331.7v6M250.0 334.6L252.6 337.9L255.2 334.6" stroke="#000" stroke-width="1.15" fill="none"/>
<path d="M261.1 344.1h4.8M263.5 344.1v6M260.9 347.0L263.5 350.3L266.1 347.0" stroke="#000" stroke-width="1.15" fill="none"/>
<path d="M433.7 269.8C433.9 270.2 434.8 272.4 435.5 273.3C436.2 274.2 438.4 276.7 439.3 277.8C440.2 278.9 442.2 281.3 443.1 282.4C444.0 283.5 445.9 285.7 446.9 286.9C447.9 288.1 450.6 291.8 451.4 293.0C452.2 294.2 453.3 296.0 453.8 297.0C454.3 298.0 455.4 300.0 456.0 301.7C456.6 303.4 458.0 308.6 458.8 311.6C459.6 314.6 461.5 323.9 462.5 327.5C463.5 331.1 466.1 338.1 467.0 342.5C467.9 346.9 469.4 360.3 470.0 365.0C470.6 369.7 472.1 378.9 472.5 382.5C472.9 386.1 473.6 394.0 473.8 395.5" fill="none" stroke="#7a4e36" stroke-width="1.15"/>
<path d="M362.4 395.5C362.8 393.5 365.1 382.4 366.0 378.2C366.9 374.0 369.0 363.6 369.9 359.6C370.8 355.6 373.2 346.4 373.8 344.0C374.4 341.6 374.5 340.6 375.0 339.0C375.5 337.4 377.1 331.9 377.7 330.0C378.3 328.1 378.9 325.6 379.9 322.3C380.9 319.0 385.0 305.5 386.5 301.5C388.0 297.5 391.6 291.2 393.1 288.3C394.6 285.4 397.8 278.7 399.7 277.0C401.6 275.3 407.4 274.1 409.2 273.6C411.0 273.1 413.8 272.8 415.0 272.7C416.2 272.6 418.3 272.1 419.2 272.4C420.1 272.7 421.7 274.4 422.4 275.1C423.1 275.8 424.0 278.9 424.9 278.5C425.8 278.1 429.1 272.9 429.9 272.0C430.7 271.1 431.4 271.0 431.8 270.7C432.2 270.4 433.2 269.5 433.7 269.5C434.2 269.5 435.6 269.8 436.3 270.3C437.0 270.8 439.3 273.2 440.1 274.1C440.9 275.0 442.4 276.8 443.1 277.8C443.8 278.8 445.2 281.5 446.1 282.4C447.0 283.3 449.6 284.7 450.6 285.4C451.6 286.1 453.1 287.2 454.6 288.3C456.1 289.4 461.7 293.6 463.1 294.6C464.5 295.6 465.8 296.7 466.6 296.7C467.4 296.7 469.5 295.0 470.2 294.6C470.9 294.2 472.0 293.4 473.0 293.2C474.0 293.0 476.8 293.0 478.6 293.0C480.4 293.0 486.8 292.8 488.4 293.3C490.0 293.8 491.4 295.9 492.6 296.9C493.8 297.9 497.0 300.6 498.3 301.8C499.6 303.0 503.0 305.8 503.9 306.8C504.8 307.8 505.4 308.9 506.1 310.0C506.8 311.1 509.2 314.4 510.1 316.1C511.0 317.8 513.2 322.1 514.2 324.2C515.2 326.3 517.5 332.5 518.3 334.3C519.1 336.1 520.5 338.6 521.3 339.4C522.1 340.2 524.3 340.9 525.4 341.4C526.5 341.9 529.0 343.2 530.4 343.3C531.8 343.4 536.0 342.5 537.5 342.5C539.0 342.5 542.5 342.8 543.6 343.3C544.7 343.8 546.4 345.4 547.2 346.9C548.0 348.4 550.0 353.6 550.8 355.8C551.6 358.0 553.4 363.2 554.3 365.7C555.2 368.2 557.5 375.2 558.8 377.3C560.1 379.4 563.4 382.0 565.1 384.0C566.8 386.0 572.2 393.1 573.2 394.4C574.2 395.7 573.9 395.4 574.0 395.5" fill="none" stroke="#b81e1e" stroke-width="1.35" stroke-linejoin="round"/>
<polyline points="435.0,395.5 441.2,370.0 447.5,352.5 453.8,336.2 456.2,333.8 460.0,322.5 465.0,310.0 468.7,301.7 471.6,296.0 474.4,293.2 478.5,293.3 488.4,294.8 494.0,299.7 499.7,306.8 506.8,315.3 511.0,322.3 512.6,328.0 514.0,334.0 516.2,342.5 519.3,353.3 523.2,362.7 527.1,367.4 533.4,370.5 538.0,372.8 541.2,375.2 543.5,378.3 545.0,381.4 546.6,386.0 547.4,395.5" fill="none" stroke="#52b526" stroke-width="1.2" stroke-dasharray="1.1 1.1"/>
<polyline points="539.5,372.0 541.5,380.0 542.0,371.0 544.0,384.0 544.5,374.0 546.0,388.0" fill="none" stroke="#5cbb30" stroke-width="0.8" stroke-dasharray="1 0.8"/>
<polyline points="524.0,362.0 527.0,368.0 525.0,361.0 528.0,369.0" fill="none" stroke="#5cbb30" stroke-width="0.8" stroke-dasharray="1 0.8"/>
<polyline points="452.0,335.0 455.0,338.0 453.0,333.0" fill="none" stroke="#5cbb30" stroke-width="0.8" stroke-dasharray="1 0.8"/>
<polyline points="494.0,395.5 500.0,389.1 510.1,379.0 520.3,367.8 530.4,360.7 542.6,356.7 546.5,357.0 549.9,362.1 554.3,370.2 558.8,377.3" fill="none" stroke="#1a22d0" stroke-width="1.3" stroke-dasharray="4 2.6"/>
<path d="M428.7 265.2h7.4M428.7 274.1h7.4M460.1 296.0h7.4M460.1 305.2h7.4M468.5 288.1h7.4M468.5 293.3h7.4M475.5 293.3h7.4M475.5 298.3h7.4M478.7 293.3h7.4M478.7 298.3h7.4M482.6 293.3h7.4M482.6 298.3h7.4M495.3 297.6h7.4M495.3 303.2h7.4M503.1 308.2h7.4M503.1 315.3h7.4M510.9 319.3h7.4M510.9 330.3h7.4M520.2 333.3h7.4M520.2 340.4h7.4M524.7 333.3h7.4M524.7 382.0h7.4M531.8 341.4h7.4M531.8 347.5h7.4M534.8 341.4h7.4M534.8 347.5h7.4M537.9 341.4h7.4M537.9 348.5h7.4M541.9 340.4h7.4M541.9 347.5h7.4" stroke="#111" stroke-width="1.2" fill="none"/>
<path d="M432.4 265.2V274.1M463.8 296.0V305.2M472.2 288.1V293.3M479.2 293.3V298.3M482.4 293.3V298.3M486.3 293.3V298.3M499.0 297.6V303.2M506.8 308.2V315.3M514.6 319.3V330.3M523.9 333.3V340.4M528.4 333.3V382.0M535.5 341.4V347.5M538.5 341.4V347.5M541.6 341.4V348.5M545.6 340.4V347.5" stroke="#3a3a3a" stroke-width="1" fill="none"/>
<circle cx="432.4" cy="269.9" r="1.2" fill="#000"/><circle cx="463.8" cy="300.3" r="1.2" fill="#000"/><circle cx="472.2" cy="291.2" r="1.2" fill="#000"/><circle cx="479.2" cy="295.5" r="1.2" fill="#000"/><circle cx="482.4" cy="295.8" r="1.2" fill="#000"/><circle cx="486.3" cy="295.8" r="1.2" fill="#000"/><circle cx="499.0" cy="300.4" r="1.2" fill="#000"/><circle cx="506.8" cy="311.7" r="1.2" fill="#000"/><circle cx="514.6" cy="324.2" r="1.2" fill="#000"/><circle cx="523.9" cy="336.4" r="1.2" fill="#000"/><circle cx="528.4" cy="347.5" r="1.2" fill="#000"/><circle cx="535.5" cy="344.5" r="1.2" fill="#000"/><circle cx="538.5" cy="344.5" r="1.2" fill="#000"/><circle cx="541.6" cy="345.0" r="1.2" fill="#000"/><circle cx="545.6" cy="344.5" r="1.2" fill="#000"/>
<path d="M558.7 329.0h4.8M561.1 329.0v6M558.5 331.9L561.1 335.2L563.7 331.9" stroke="#000" stroke-width="1.15" fill="none"/>
<path d="M569.9 342.4h4.8M572.3 342.4v6M569.7 345.3L572.3 348.6L574.9 345.3" stroke="#000" stroke-width="1.15" fill="none"/>
</svg></body></html>
